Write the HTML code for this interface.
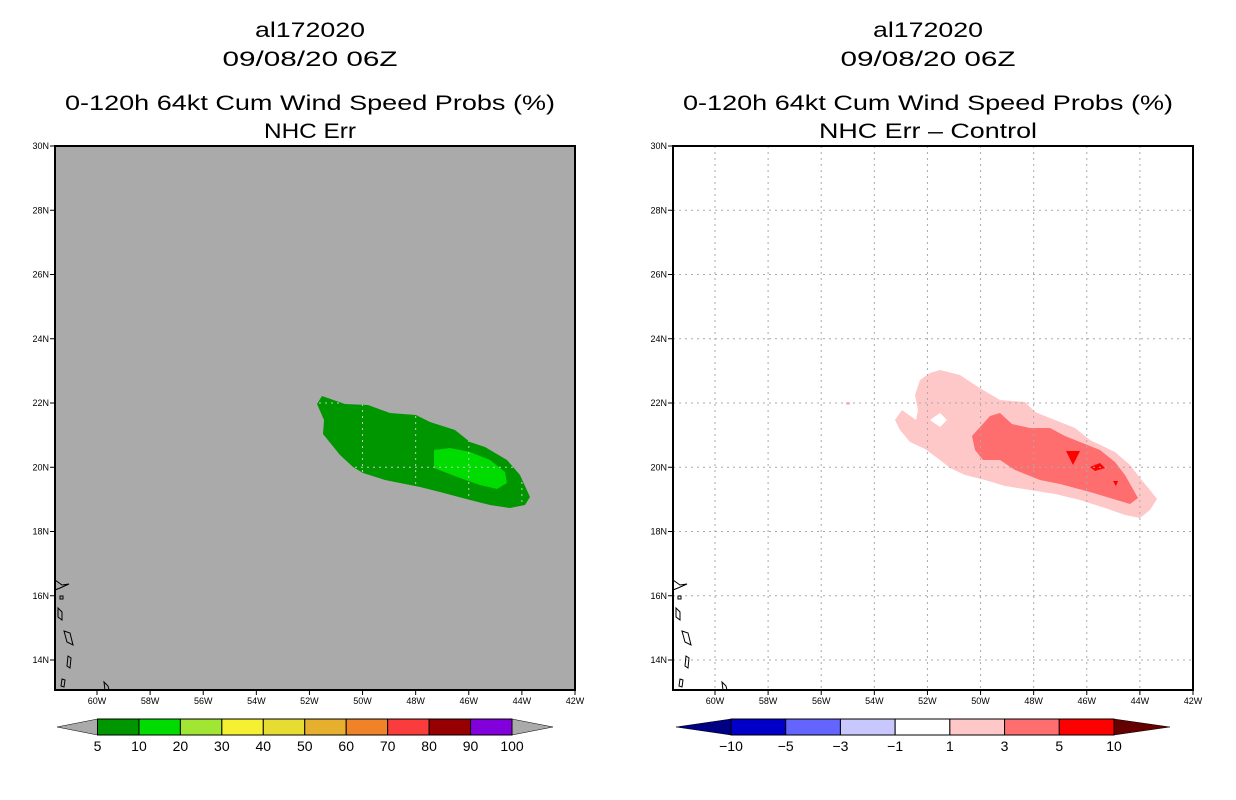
<!DOCTYPE html>
<html><head><meta charset="utf-8"><style>
body{margin:0;background:#fff;width:1236px;height:800px;overflow:hidden}
svg{display:block;font-family:"Liberation Sans",sans-serif}
</style></head><body>
<svg id="s" width="1236" height="800" xmlns="http://www.w3.org/2000/svg"></svg>
<script>
const lonTicks=[60,58,56,54,52,50,48,46,44,42];
const latTicks=[30,28,26,24,22,20,18,16,14];
const leftLevels=["5","10","20","30","40","50","60","70","80","90","100"];
const leftColors=["#009600","#00dc00","#a0e632","#f5f032","#e6dc32","#e6af2d","#f08228","#fa3c3c","#960000","#8200dc"];
const rightLevels=["-10","-5","-3","-1","1","3","5","10"];
const rightColors=["#0000c8","#6464ff","#c8c8ff","#ffffff","#ffc8c8","#ff6e6e","#ff0000"];
const P=(a)=>a.map(([x,y])=>[42+(575-x)/26.556,30-(y-146)/32.125]);
const green5=P([[317,404],[322,396],[345,404],[368,405],[390,413],[416,415],[430,422],[455,430],[470,442],[485,447],[507,460],[520,475],[530,497],[525,505],[510,508],[490,505],[470,500],[440,492],[420,487],[400,483],[385,480],[363,473],[353,467],[340,455],[323,434],[324,420]]);
const green10=P([[434,450],[450,448],[470,452],[490,460],[505,472],[507,483],[497,489],[480,485],[460,478],[434,468]]);
const R=(a)=>P(a.map(([x,y])=>[x-618,y]));
const pink1=R([[940,370],[960,375],[978,387],[1000,400],[1025,402],[1035,412],[1050,418],[1075,428],[1090,440],[1115,452],[1130,465],[1140,478],[1150,490],[1157,499],[1150,510],[1140,518],[1125,515],[1105,508],[1080,500],[1055,494],[1030,490],[1005,486],[985,480],[965,475],[950,468],[940,460],[925,449],[910,442],[900,430],[895,420],[902,410],[916,420],[918,410],[915,395],[920,380],[930,373]]);
const hole=R([[930,420],[940,413],[947,420],[940,427]]);
const red3=R([[990,416],[1000,413],[1012,424],[1030,428],[1050,428],[1065,436],[1085,444],[1100,450],[1115,462],[1125,475],[1138,498],[1130,504],[1110,498],[1090,492],[1060,484],[1040,480],[1015,470],[1000,460],[983,460],[975,450],[972,436]]);
const red5a=R([[1066,451],[1080,451],[1073,465]]);
const red5b=R([[1090,467],[1100,463],[1105,468],[1095,471]]);
const red5c=R([[1113,481],[1118,481],[1116,486]]);
const dot=R([[846,402],[850,402],[850,405],[846,405]]);

const s=document.getElementById('s');const NS='http://www.w3.org/2000/svg';
function el(t,a,p){const e=document.createElementNS(NS,t);for(const k in a)e.setAttribute(k,a[k]);(p||s).appendChild(e);return e;}
function txt(x,y,str,size,anchor,p,len){const a={x:x,y:y,'font-size':size,'text-anchor':anchor||'middle',fill:'#000'};if(len){a.textLength=len;a.lengthAdjust='spacingAndGlyphs';}const e=el('text',a,p);e.textContent=str;return e;}

function panel(ox,bg,name,sub,subLen,contours,gridCol,gridClip){
  const g=el('g',{});
  
  
  const X=lon=>ox+575-(lon-42)*26.556, Y=lat=>146+(30-lat)*32.125;
  const cx=ox+310;
  let t=txt(cx,37,'al172020',21,'middle',g,110);
  t=txt(cx,66,'09/08/20 06Z',21,'middle',g,175);
  t=txt(cx,110,'0-120h 64kt Cum Wind Speed Probs (%)',21,'middle',g,490);
  t=txt(cx,138,sub,21,'middle',g,subLen);
  const bgR=el('rect',{x:ox+55,y:146,width:520,height:544,fill:bg},g);
  
  const pts=a=>a.map(([lo,la])=>X(lo)+','+Y(la)).join(' ');
  const cid='clip'+ox;
  if(gridClip){const cp=el('clipPath',{id:cid},g);el('polygon',{points:pts(gridClip)},cp);}
  contours.forEach(([arr,col,n])=>{const p=el('polygon',{points:pts(arr),fill:col},g);});
  const gg=el('g',gridClip?{'clip-path':'url(#'+cid+')'}:{},g);
  
  lonTicks.forEach(l=>{if(l>42)el('line',{x1:X(l),x2:X(l),y1:146,y2:690,stroke:gridCol,'stroke-dasharray':'2,4'},gg);});
  latTicks.forEach(l=>{if(l<30)el('line',{x1:ox+55,x2:ox+575,y1:Y(l),y2:Y(l),stroke:gridCol,'stroke-dasharray':'2,4'},gg);});
  const isl=[[[ox+55,580],[ox+62,585],[ox+69,584],[ox+60,588],[ox+55,590]],[[ox+58,608],[ox+62,612],[ox+62,620],[ox+58,617]],[[ox+64,631],[ox+70,633],[ox+73,645],[ox+67,642]],[[ox+68,656],[ox+71,658],[ox+70,668],[ox+67,666]],[[ox+62,679],[ox+65,680],[ox+64,687],[ox+61,686]],[[ox+104,682],[ox+108,686],[ox+109,690],[ox+105,690]],[[ox+60,596],[ox+63,596],[ox+63,599],[ox+60,599]]];
  isl.forEach(a=>{const p=el('polygon',{points:a.map(q=>q.join(',')).join(' '),fill:'none',stroke:'#000','stroke-width':1},g);});
  const fr=el('rect',{x:ox+55,y:146,width:520,height:544,fill:'none',stroke:'#000','stroke-width':2},g);
  
  lonTicks.forEach(l=>{el('line',{x1:X(l),x2:X(l),y1:690,y2:695,stroke:'#000'},g);const t=txt(X(l),704,l+'W',9,'middle',g);});
  latTicks.forEach(l=>{el('line',{x1:ox+50,x2:ox+55,y1:Y(l),y2:Y(l),stroke:'#000'},g);const t=txt(ox+49,Y(l)+3,l+'N',9,'end',g);});
  return g;
}
panel(0,'#aaaaaa','left',"NHC Err",92,[[green5,'#009600','contour-5pct'],[green10,'#00dc00','contour-10pct']],'#c8c8c8',green5);
panel(618,'#ffffff','right',"NHC Err \u2013 Control",218,[[pink1,'#ffc8c8','contour-diff-1'],[hole,'#ffffff','contour-hole'],[red3,'#ff6e6e','contour-diff-3'],[red5a,'#ff0000','contour-diff-5a'],[red5b,'#ff0000','contour-diff-5b'],[red5c,'#ff0000','contour-diff-5c'],[dot,'#ffc8c8','contour-dot']],'#aaaaaa',null);

function colorbar(x0,x1,y,colors,levels,leftTri,rightTri,triL,triR,name){
  const g=el('g',{});
  
  
  const w=(x1-x0)/colors.length,h=16;
  el('polygon',{points:`${triL},${y+h/2} ${x0},${y} ${x0},${y+h}`,fill:leftTri,stroke:'#000','stroke-width':0.5},g);
  el('polygon',{points:`${triR},${y+h/2} ${x1},${y} ${x1},${y+h}`,fill:rightTri,stroke:'#000','stroke-width':0.5},g);
  colors.forEach((c,i)=>{const r=el('rect',{x:x0+i*w,y:y,width:w,height:h,fill:c,stroke:'#000','stroke-width':1},g);});
  levels.forEach((l,i)=>{const t=txt(x0+i*w,y+32,l.replace('-','\u2212'),14,'middle',g);});
}
colorbar(97.5,512,719,leftColors,leftLevels,'#aaaaaa','#aaaaaa',57,553,'left-colorbar');
colorbar(731,1114,719,rightColors,rightLevels,'#000082','#640000',676,1170,'right-colorbar');
</script>
</body></html>
